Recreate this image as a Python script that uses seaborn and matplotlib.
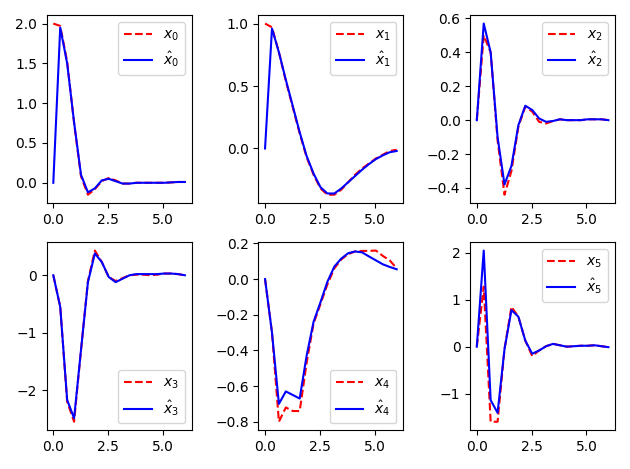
import numpy as np
import matplotlib
matplotlib.use("Agg")
import matplotlib.pyplot as plt
import seaborn as sns

# time grid (20 samples from 0 to 6)
t = np.linspace(0, 6, 20)

# true states x_i (red dashed) and estimates x_hat_i (blue)
x0 = [2.0, 1.97, 1.52, 0.75, 0.08, -0.15, -0.08, 0.02, 0.06, 0.03, -0.01, -0.01, 0.0, 0.0, 0.0, 0.0, 0.0, 0.005, 0.01, 0.01]
xh0 = [0.0, 1.95, 1.50, 0.76, 0.10, -0.12, -0.07, 0.03, 0.05, 0.02, -0.01, -0.01, 0.0, 0.0, 0.0, 0.0, 0.0, 0.005, 0.01, 0.01]

x1 = [1.0, 0.97, 0.77, 0.54, 0.33, 0.12, -0.07, -0.21, -0.32, -0.37, -0.37, -0.33, -0.27, -0.21, -0.16, -0.12, -0.08, -0.05, -0.02, -0.01]
xh1 = [0.0, 0.96, 0.77, 0.55, 0.34, 0.13, -0.06, -0.20, -0.31, -0.36, -0.36, -0.32, -0.27, -0.22, -0.17, -0.125, -0.085, -0.055, -0.03, -0.02]

x2 = [0.0, 0.50, 0.40, -0.12, -0.44, -0.30, -0.04, 0.08, 0.05, -0.01, -0.02, -0.005, 0.005, 0.0, 0.0, 0.0, 0.005, 0.005, 0.005, 0.0]
xh2 = [0.0, 0.57, 0.40, -0.10, -0.38, -0.27, -0.03, 0.085, 0.06, 0.01, -0.01, -0.005, 0.005, 0.0, 0.0, 0.0, 0.005, 0.005, 0.005, 0.0]

x3 = [0.0, -0.55, -2.20, -2.55, -1.30, -0.10, 0.43, 0.23, -0.03, -0.10, -0.05, 0.0, 0.01, 0.01, 0.0, 0.01, 0.03, 0.03, 0.02, 0.0]
xh3 = [0.0, -0.55, -2.17, -2.49, -1.30, -0.12, 0.38, 0.23, -0.03, -0.12, -0.06, 0.0, 0.02, 0.02, 0.02, 0.02, 0.03, 0.03, 0.02, 0.0]

x4 = [0.0, -0.30, -0.80, -0.72, -0.74, -0.74, -0.47, -0.25, -0.14, -0.03, 0.06, 0.11, 0.14, 0.155, 0.158, 0.158, 0.16, 0.13, 0.105, 0.06]
xh4 = [0.0, -0.30, -0.70, -0.63, -0.65, -0.67, -0.43, -0.24, -0.13, -0.015, 0.07, 0.115, 0.145, 0.155, 0.15, 0.127, 0.105, 0.083, 0.068, 0.055]

x5 = [0.0, 1.28, -1.60, -1.60, -0.05, 0.85, 0.64, 0.13, -0.20, -0.08, 0.01, 0.06, 0.03, 0.0, 0.01, 0.02, 0.02, 0.03, 0.01, -0.01]
xh5 = [0.0, 2.05, -1.14, -1.41, -0.05, 0.78, 0.64, 0.13, -0.15, -0.08, 0.01, 0.06, 0.03, 0.0, 0.01, 0.02, 0.02, 0.03, 0.01, -0.01]

true_states = [x0, x1, x2, x3, x4, x5]
est_states = [xh0, xh1, xh2, xh3, xh4, xh5]
legend_locs = ["upper right", "upper right", "upper right",
               "lower right", "lower right", "upper right"]

fig, axes = plt.subplots(2, 3, figsize=(6.3, 4.69), dpi=100)

for i, ax in enumerate(axes.flat):
    sns.lineplot(x=t, y=true_states[i], ax=ax, color="red", linestyle="--",
                 label=f"$x_{i}$")
    sns.lineplot(x=t, y=est_states[i], ax=ax, color="blue",
                 label=f"$\\hat{{x}}_{i}$")
    ax.legend(loc=legend_locs[i])

plt.tight_layout()
plt.savefig("out.png")
